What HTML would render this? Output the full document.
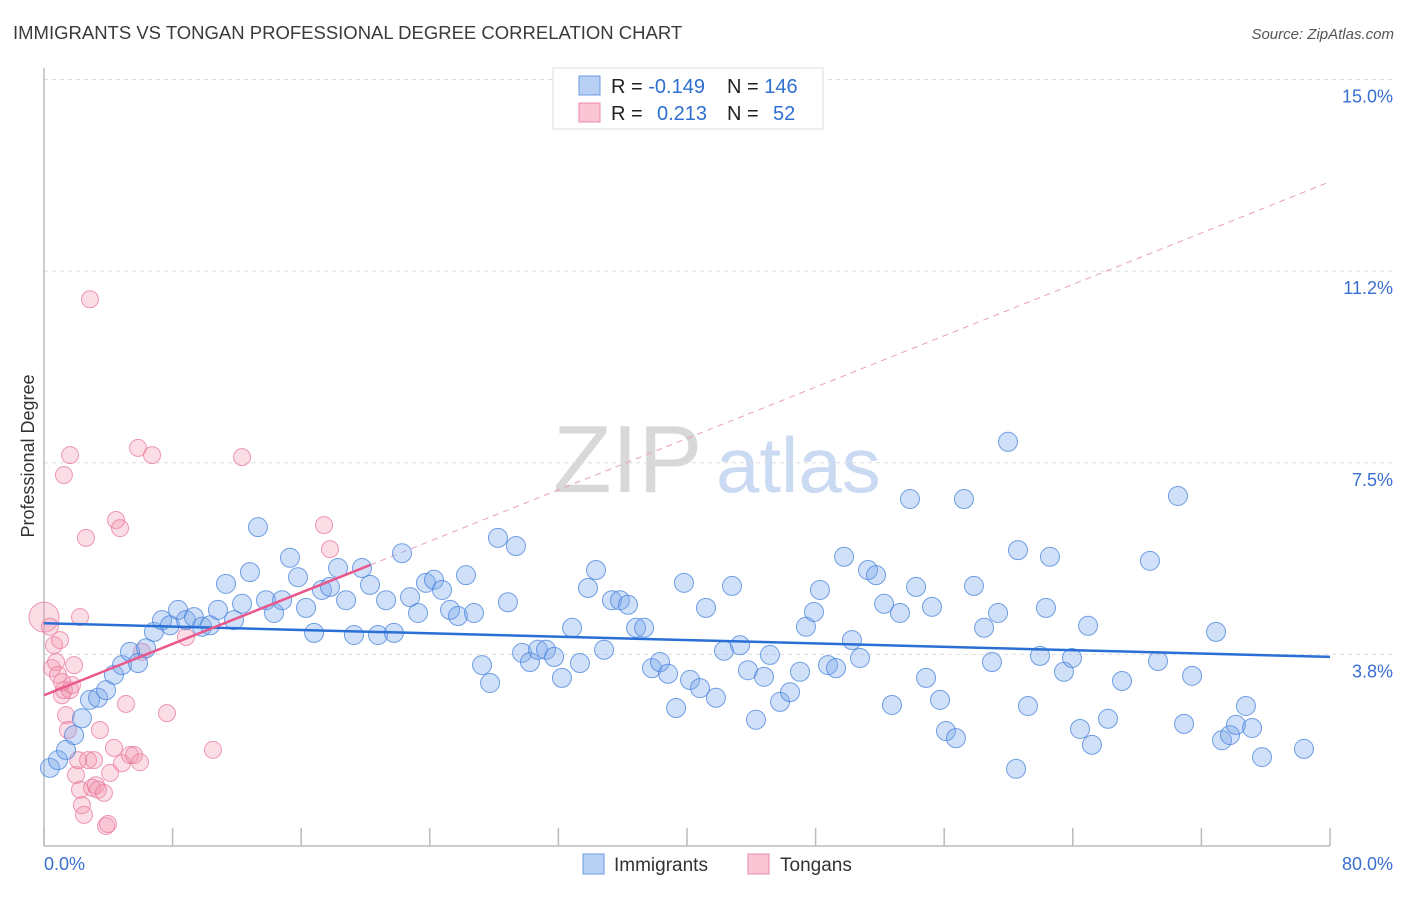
<!DOCTYPE html>
<html><head><meta charset="utf-8"><style>
body{margin:0;background:#fff;font-family:"Liberation Sans",sans-serif;}
svg text{font-family:"Liberation Sans",sans-serif;}
</style></head><body>
<svg id="chart" width="1406" height="892" viewBox="0 0 1406 892" xmlns="http://www.w3.org/2000/svg">
<text x="13" y="39" font-size="18.5" fill="#3a3a3a">IMMIGRANTS VS TONGAN PROFESSIONAL DEGREE CORRELATION CHART</text>
<text x="1394" y="39" font-size="15" fill="#555" font-style="italic" text-anchor="end">Source: ZipAtlas.com</text>
<g>
<text x="553" y="492" font-size="96" fill="#d8d8d8" font-family="Liberation Serif">ZIP</text>
<text x="716" y="492" font-size="78" fill="#c9daf2">atlas</text>
</g>
<g id="grid"></g>
<g id="axes"></g>
<g id="trend-dash"></g>
<g id="pts"></g>
<g id="trends"></g>
<text transform="translate(34,456) rotate(-90)" font-size="18" fill="#333" text-anchor="middle">Professional Degree</text>
<g>
<rect x="553" y="68" width="270" height="61" fill="#fff" stroke="#ddd"/>
<rect x="579" y="76" width="21" height="19" fill="#b8d0f4" stroke="#6a9be0"/>
<rect x="579" y="103" width="21" height="19" fill="#fac6d5" stroke="#e88aa5"/>
<text x="611" y="93" font-size="20" fill="#222">R = <tspan fill="#2f6fd0">-0.149</tspan><tspan x="727">N = </tspan><tspan fill="#2f6fd0">146</tspan></text>
<text x="611" y="120" font-size="20" fill="#222">R = <tspan x="657" fill="#2f6fd0">0.213</tspan><tspan x="727">N = </tspan><tspan x="773" fill="#2f6fd0">52</tspan></text>
</g>
<g>
<rect x="583" y="854" width="21" height="20" fill="#b8d0f4" stroke="#6a9be0"/>
<text x="614" y="871" font-size="19" fill="#333">Immigrants</text>
<rect x="748" y="854" width="21" height="20" fill="#fac6d5" stroke="#e88aa5"/>
<text x="780" y="871" font-size="19" fill="#333">Tongans</text>
</g>
</svg>
<script>
const blueX=[0.37,0.87,1.37,1.87,2.36,2.86,3.36,3.86,4.35,4.85,5.35,5.85,6.35,6.84,7.34,7.84,8.34,8.83,9.33,9.83,10.33,10.82,11.32,11.82,12.32,12.81,13.31,13.81,14.31,14.81,15.30,15.80,16.30,16.80,17.29,17.79,18.29,18.79,19.28,19.78,20.28,20.78,21.28,21.77,22.27,22.77,23.27,23.76,24.26,24.76,25.26,25.75,26.25,26.75,27.25,27.75,28.24,28.86,29.36,29.74,30.23,30.73,31.23,31.73,32.22,32.85,33.34,33.84,34.34,34.84,35.33,35.83,36.33,36.83,37.33,37.82,38.32,38.82,39.32,39.81,40.19,40.81,41.18,41.80,42.30,42.80,43.30,43.79,44.29,44.79,45.16,45.79,46.41,47.03,47.40,47.90,48.27,48.77,49.27,49.77,50.26,50.76,51.26,51.76,52.26,52.75,53.25,53.87,54.25,54.87,55.24,55.74,56.11,56.73,57.23,57.85,58.48,58.97,59.35,59.97,60.47,60.59,61.21,61.96,62.33,62.58,63.45,63.95,64.45,64.95,65.19,66.19,67.06,68.80,69.30,70.54,70.92,71.42,72.91,73.28,73.78,74.15,74.77,75.15,75.77,78.38];
const blueY=[1.53,1.68,1.88,2.17,2.50,2.86,2.90,3.05,3.35,3.54,3.80,3.58,3.87,4.19,4.42,4.32,4.62,4.42,4.48,4.29,4.32,4.62,5.13,4.42,4.74,5.36,6.24,4.81,4.56,4.81,5.64,5.26,4.66,4.17,5.01,5.07,5.44,4.81,4.13,5.44,5.11,4.13,4.81,4.17,5.73,4.87,4.56,5.15,5.21,5.01,4.62,4.50,5.30,4.56,3.54,3.19,6.03,4.77,5.87,3.78,3.60,3.84,3.84,3.70,3.29,4.27,3.58,5.05,5.40,3.84,4.81,4.81,4.72,4.27,4.27,3.48,3.60,3.37,2.70,5.15,3.25,3.09,4.66,2.90,3.82,5.09,3.93,3.44,2.47,3.31,3.74,2.82,3.01,3.41,4.29,4.58,5.01,3.54,3.48,5.66,4.03,3.68,5.40,5.30,4.74,2.76,4.56,6.79,5.07,3.29,4.68,2.86,2.25,2.11,6.79,5.09,4.27,3.60,4.56,7.91,1.51,5.79,2.74,3.72,4.66,5.66,3.41,3.68,2.29,4.31,1.98,2.49,3.23,5.58,3.62,6.85,2.39,3.33,4.19,2.07,2.17,2.37,2.74,2.31,1.74,1.90];
const pinkX=[0.0,0.37,0.50,0.62,0.75,0.87,1.0,1.12,1.24,1.37,1.49,1.62,1.74,1.87,1.99,2.12,2.24,2.36,2.49,2.61,2.74,2.86,2.99,3.11,3.23,3.36,3.48,3.73,3.86,3.98,4.11,4.35,4.48,4.73,4.85,5.10,5.35,5.60,5.85,5.97,6.10,6.72,7.65,8.83,10.51,12.32,1.24,1.62,17.42,17.79,2.24,1.12];
const pinkY=[4.48,4.29,3.48,3.93,3.60,3.35,4.03,2.95,3.05,2.56,2.27,3.05,3.15,3.54,1.39,1.68,1.10,0.80,0.61,6.03,1.68,10.70,1.14,1.68,1.19,1.10,2.27,1.04,0.39,0.43,1.43,1.92,6.38,6.22,1.62,2.78,1.78,1.78,7.79,1.64,3.80,7.65,2.60,4.09,1.88,7.61,7.26,7.65,6.28,5.81,4.48,3.21];
const blueTrendX=[0,80], blueTrendY=[4.36,3.70];
const pinkTrendX=[0,20.3], pinkTrendY=[2.95,5.50];
const pinkExtX=[20.3,80], pinkExtY=[5.50,13.0];
const yTicks=[3.75,7.5,11.25,15];
const yTickLabels=["3.8%","7.5%","11.2%","15.0%"];
const xTicks=[0,8,16,24,32,40,48,56,64,72,80];

const NS="http://www.w3.org/2000/svg";
const X0=44,X1=1330,Y0=846,PPY=51.1;
const sx=v=>X0+(v/80)*(X1-X0);
const sy=v=>Y0-v*PPY;
function mk(tag,attrs,parent){const e=document.createElementNS(NS,tag);for(const k in attrs)e.setAttribute(k,attrs[k]);parent.appendChild(e);return e;}
const grid=document.getElementById('grid'),axes=document.getElementById('axes'),pts=document.getElementById('pts'),tr=document.getElementById('trends'),td=document.getElementById('trend-dash');
yTicks.forEach((t,i)=>{
  const l=mk('line',{x1:X0,x2:1394,y1:sy(t),y2:sy(t),stroke:'#ddd','stroke-dasharray':'4,4'},grid);
  
  
  const tx=mk('text',{x:1393,y:sy(t)+23,'font-size':18,fill:'#3a6fd0','text-anchor':'end'},grid);
  tx.textContent=yTickLabels[i];
  
  
});
const ya=mk('line',{x1:X0,x2:X0,y1:68,y2:Y0,stroke:'#bbb','stroke-width':1.5},axes);


const xa=mk('line',{x1:X0,x2:X1,y1:Y0,y2:Y0,stroke:'#bbb','stroke-width':1.5},axes);


xTicks.forEach(t=>{
  const l=mk('line',{x1:sx(t),x2:sx(t),y1:828,y2:Y0,stroke:'#bbb','stroke-width':1.5},axes);
  
  
});
const xl0=mk('text',{x:44,y:870,'font-size':18,fill:'#3a6fd0'},axes);xl0.textContent="0.0%";


const xl1=mk('text',{x:1393,y:870,'font-size':18,fill:'#3a6fd0','text-anchor':'end'},axes);xl1.textContent="80.0%";


pinkX.forEach((v,i)=>{
  const c=mk('circle',{cx:sx(v),cy:sy(pinkY[i]),r:i===0?15:8.5,fill:'rgba(244,150,178,0.32)',stroke:'rgba(232,120,155,0.75)','stroke-width':1},pts);
  
  
});
blueX.forEach((v,i)=>{
  const c=mk('circle',{cx:sx(v),cy:sy(blueY[i]),r:9.5,fill:'rgba(120,165,235,0.35)',stroke:'rgba(70,130,220,0.75)','stroke-width':1},pts);
  
  
});
const pe=mk('line',{x1:sx(pinkExtX[0]),y1:sy(pinkExtY[0]),x2:sx(pinkExtX[1]),y2:sy(pinkExtY[1]),stroke:'#e8a0b8','stroke-width':1,'stroke-dasharray':'6,5'},td);


const bt=mk('line',{x1:sx(blueTrendX[0]),y1:sy(blueTrendY[0]),x2:sx(blueTrendX[1]),y2:sy(blueTrendY[1]),stroke:'#2a6fd6','stroke-width':2.5},tr);


const pt=mk('line',{x1:sx(pinkTrendX[0]),y1:sy(pinkTrendY[0]),x2:sx(pinkTrendX[1]),y2:sy(pinkTrendY[1]),stroke:'#e8588a','stroke-width':2.5},tr);


</script>
</body></html>
